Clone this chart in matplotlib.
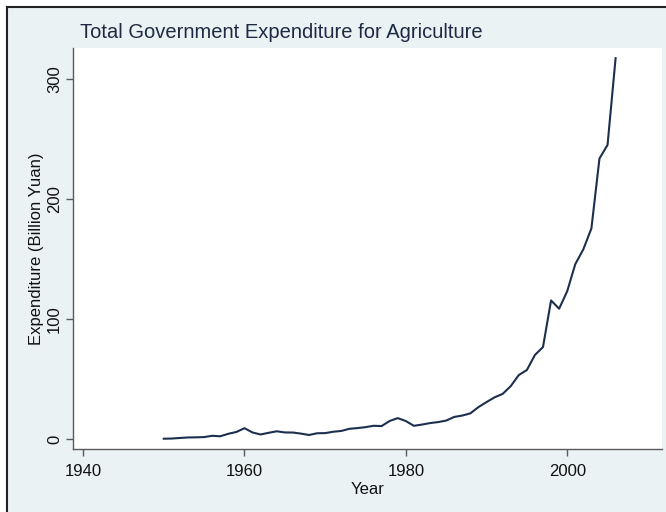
import matplotlib
matplotlib.use('Agg')
import matplotlib.pyplot as plt
from matplotlib.lines import Line2D

plt.rcParams['font.family'] = ['Liberation Sans', 'DejaVu Sans']

# government expenditure for agriculture, billion yuan
years = list(range(1950, 2007))
expenditure = [0.27, 0.42, 0.90, 1.31, 1.42, 1.63, 2.71, 2.30, 4.37, 5.89,
               9.05, 5.44, 3.81, 5.19, 6.46, 5.50, 5.42, 4.53, 3.38, 4.81,
               4.94, 6.07, 6.75, 8.52, 9.12, 9.90, 11.05, 10.81, 15.07, 17.43,
               15.00, 11.02, 12.05, 13.29, 14.13, 15.36, 18.42, 19.57, 21.41, 26.59,
               30.78, 34.76, 37.60, 44.05, 53.30, 57.49, 70.04, 76.64, 115.48, 108.58,
               123.15, 145.67, 158.08, 175.45, 233.76, 245.03, 317.30]

x_ticks = [1940, 1960, 1980, 2000]
y_ticks = [0, 100, 200, 300]

bg = '#eaf2f3'
line_col = '#1d2f4e'
axis_col = '#5a5a5a'

fig = plt.figure(figsize=(6.66, 5.12), dpi=100, facecolor='white')
W, H = 666, 512

# outer graph region with a dark frame on top/left
fig.patches.append(plt.Rectangle((7 / W, 0), 1, 1 - 7 / H, transform=fig.transFigure,
                                 facecolor=bg, edgecolor='none', zorder=-10))
fig.lines.append(Line2D([7 / W, 1], [1 - 7 / H, 1 - 7 / H], transform=fig.transFigure,
                        color='#222222', lw=1.5, zorder=-5))
fig.lines.append(Line2D([7 / W, 7 / W], [0, 1 - 7 / H], transform=fig.transFigure,
                        color='#222222', lw=1.5, zorder=-5))

left, right, top, bottom = 73, 662, 48, 449
ax = fig.add_axes([left / W, 1 - bottom / H, (right - left) / W, (bottom - top) / H])
ax.set_facecolor('white')

ax.plot(years, expenditure, color=line_col, lw=1.5)

ax.set_xlim(1938.75, 2011.75)
ax.set_ylim(-8.3, 325.8)
ax.set_xticks(x_ticks)
ax.set_yticks(y_ticks)

for s in ['top', 'right']:
    ax.spines[s].set_visible(False)
for s in ['left', 'bottom']:
    ax.spines[s].set_color(axis_col)
    ax.spines[s].set_linewidth(1.0)

ax.tick_params(axis='both', direction='out', length=5, width=1.0, color=axis_col,
               labelsize=12, labelcolor='#111111', pad=3)
ax.tick_params(axis='x', pad=6)
for lab in ax.get_yticklabels():
    lab.set_rotation(90)
    lab.set_va('center')

ax.set_xlabel('Year', fontsize=12, color='#111111', labelpad=2)
ax.set_ylabel('Expenditure (Billion Yuan)', fontsize=12, color='#111111', labelpad=2)

fig.text(80 / W, 1 - 38 / H, 'Total Government Expenditure for Agriculture',
         fontsize=14.5, color='#1e2a44', ha='left', va='baseline')

fig.savefig('out.png', dpi=100, facecolor=fig.get_facecolor())
